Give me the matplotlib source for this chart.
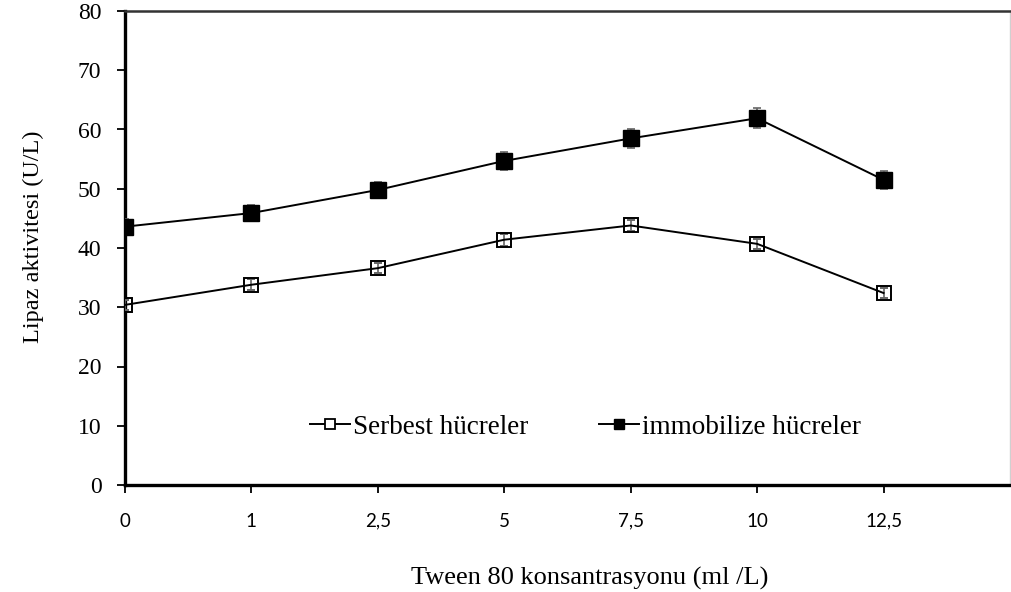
import matplotlib.pyplot as plt
from matplotlib.lines import Line2D
import numpy as np

plt.rcParams['font.family'] = ['Liberation Serif', 'DejaVu Serif']

categories = ["0", "1", "2,5", "5", "7,5", "10", "12,5"]
serbest = [30.4, 33.8, 36.6, 41.4, 43.8, 40.7, 32.4]
serbest_err = [0.9, 0.9, 0.9, 1.0, 1.0, 0.9, 0.9]
immob = [43.6, 45.9, 49.8, 54.7, 58.5, 61.9, 51.5]
immob_err = [1.3, 1.3, 1.4, 1.5, 1.6, 1.7, 1.5]

fig = plt.figure(figsize=(10.12, 5.92), dpi=100)
ax = fig.add_axes([125 / 1012, 1 - 485 / 592, (1010 - 125) / 1012, (485 - 11) / 592])

x = np.arange(len(categories))
ax.errorbar(x, serbest, yerr=serbest_err, color='black', ecolor='#666666',
            elinewidth=1.2, capsize=3, capthick=1.2, marker='s', ms=10,
            mfc='none', mec='black', mew=1.4, lw=1.4, zorder=3)
ax.errorbar(x, immob, yerr=immob_err, color='black', ecolor='#666666',
            elinewidth=1.2, capsize=3, capthick=1.2, marker='s', ms=11,
            mfc='black', mec='black', lw=1.4, zorder=3)

ax.set_xlim(0, 7)
ax.set_ylim(0, 80)
ax.set_xticks(x)
ax.set_xticklabels(categories, family=['Lato', 'DejaVu Sans'], fontsize=13.5)
ax.set_yticks(range(0, 81, 10))
ax.tick_params(axis='both', direction='out', length=6, width=1.3, colors='black')
ax.tick_params(axis='x', pad=14)
ax.tick_params(axis='y', pad=11, labelsize=17)

for s in ['left', 'bottom']:
    ax.spines[s].set_linewidth(2.4)
ax.spines['top'].set_linewidth(1.8)
ax.spines['top'].set_color('#333333')
ax.spines['right'].set_linewidth(1.0)
ax.spines['right'].set_color('#d0d0d0')

ax.set_xlabel('Tween 80 konsantrasyonu (ml /L)', fontsize=19)
ax.xaxis.set_label_coords(0.525, -0.172)
ax.set_ylabel('Lipaz aktivitesi (U/L)', fontsize=17.5)
ax.yaxis.set_label_coords(-0.092, 0.523)

handles = [
    Line2D([], [], color='black', lw=1.4, marker='s', ms=7, mfc='white', mec='black', mew=1.3),
    Line2D([], [], color='black', lw=1.4, marker='s', ms=7, mfc='black', mec='black'),
]
ax.legend(handles, ['Serbest hücreler', 'immobilize hücreler'], ncol=2, loc='center',
          bbox_to_anchor=(0.52, 0.122), frameon=False, fontsize=19.5,
          handlelength=1.5, handletextpad=0.1, columnspacing=2.6)

fig.savefig('out.png', dpi=100)
